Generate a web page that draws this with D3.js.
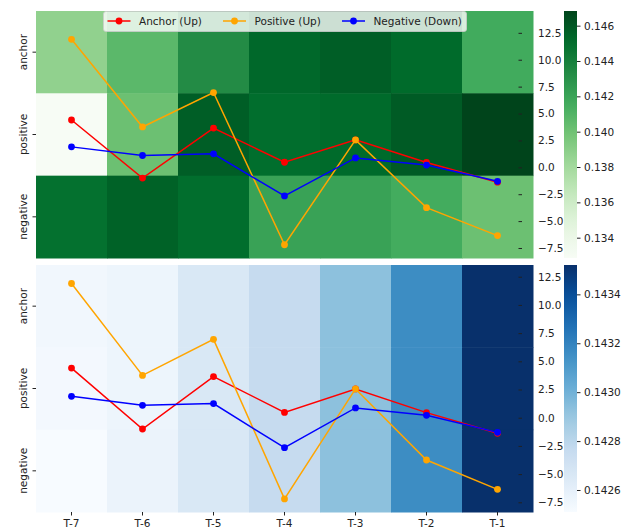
<!DOCTYPE html>
<html>
<head>
<meta charset="utf-8">
<script src="https://cdn.jsdelivr.net/npm/d3@7"></script>
<style>
  body { margin: 0; background: #fff; }
  svg text { font-family: "DejaVu Sans", sans-serif; font-size: 10.5px; fill: #222; }
  .domain { display: none; }
  .tick line { stroke: #222; }
</style>
</head>
<body>
<svg id="chart" width="633" height="532"></svg>
<script>
// ---- data ----
const steps = ["T-7", "T-6", "T-5", "T-4", "T-3", "T-2", "T-1"];
const rows = ["anchor", "positive", "negative"];

// top heatmap (Greens)
const greenAnchor   = [0.13872, 0.14068, 0.14334, 0.14529, 0.14571, 0.14515, 0.14159];
const greenPositive = [0.13285, 0.14012, 0.14571, 0.14501, 0.14515, 0.14585, 0.14683];
const greenNegative = [0.14487, 0.14557, 0.14501, 0.14208, 0.14208, 0.14152, 0.14012];

// bottom heatmap (Blues)
const blueAnchor   = [0.14254, 0.14256, 0.14266, 0.14276, 0.14293, 0.14316, 0.14352];
const bluePositive = [0.14253, 0.14256, 0.14266, 0.14276, 0.14293, 0.14316, 0.14352];
const blueNegative = [0.14251, 0.14257, 0.14266, 0.14276, 0.14293, 0.14316, 0.14352];

// line series (right axis)
const anchorUp    = [4.4, -1.0, 3.65, 0.47, 2.55, 0.45, -1.38];
const positiveUp  = [11.9, 3.75, 6.95, -7.2, 2.55, -3.75, -6.35];
const negativeDown = [1.9, 1.1, 1.25, -2.66, 0.87, 0.21, -1.3];

const lineTicks = [-7.5, -5, -2.5, 0, 2.5, 5, 7.5, 10, 12.5];
const greenTicks = [0.134, 0.136, 0.138, 0.140, 0.142, 0.144, 0.146];
const blueTicks = [0.1426, 0.1428, 0.1430, 0.1432, 0.1434];

const series = [
  { name: "Anchor (Up)", values: anchorUp, color: "#ff0000" },
  { name: "Positive (Up)", values: positiveUp, color: "#ffa500" },
  { name: "Negative (Down)", values: negativeDown, color: "#0000ff" }
];

// matplotlib colormaps (ColorBrewer stops, linear)
const greensCmap = d3.piecewise(d3.interpolateRgb, ["#f7fcf5", "#e5f5e0", "#c7e9c0", "#a1d99b", "#74c476", "#41ab5d", "#238b45", "#006d2c", "#00441b"]);
const bluesCmap = d3.piecewise(d3.interpolateRgb, ["#f7fbff", "#deebf7", "#c6dbef", "#9ecae1", "#6baed6", "#4292c6", "#2171b5", "#08519c", "#08306b"]);

const svg = d3.select("#chart");
const defs = svg.append("defs");

const x = d3.scaleBand().domain(steps).range([36, 533]);

function panel(opts) {
  const g = svg.append("g");
  const y = d3.scaleBand().domain(rows).range([opts.top, opts.bottom]);
  const color = d3.scaleSequential(opts.cmap).domain(opts.cdomain);

  const cells = [];
  rows.forEach(function (r, i) {
    opts.matrix[i].forEach(function (v, j) {
      cells.push({ row: r, col: steps[j], value: v });
    });
  });

  g.append("g").selectAll("rect")
    .data(cells)
    .enter().append("rect")
    .attr("x", function (d) { return x(d.col); })
    .attr("y", function (d) { return y(d.row); })
    .attr("width", x.bandwidth() + 0.5)
    .attr("height", y.bandwidth() + 0.5)
    .attr("fill", function (d) { return color(d.value); });

  // left row labels
  const left = g.append("g")
    .attr("transform", "translate(36,0)")
    .call(d3.axisLeft(y).tickSize(3.5).tickPadding(0).tickFormat(""));
  left.selectAll(".tick").append("text")
    .attr("transform", "translate(-13,0) rotate(-90)")
    .attr("text-anchor", "middle")
    .attr("dy", "0.35em")
    .text(function (d) { return d; });

  // line y scale (twin axis)
  const ly = d3.scaleLinear().domain(opts.ldomain).range([opts.bottom, opts.top]);
  g.append("g")
    .attr("transform", "translate(518.5,0)")
    .call(d3.axisRight(ly).tickValues(lineTicks).tickSize(3.5).tickPadding(16).tickFormat(d3.format(".1f")));

  const line = d3.line()
    .x(function (d, i) { return x(steps[i]) + x.bandwidth() / 2; })
    .y(function (d) { return ly(d); });

  series.forEach(function (s) {
    g.append("path")
      .datum(s.values)
      .attr("d", line)
      .attr("fill", "none")
      .attr("stroke", s.color)
      .attr("stroke-width", 1.5);
    g.append("g").selectAll("circle")
      .data(s.values)
      .enter().append("circle")
      .attr("cx", function (d, i) { return x(steps[i]) + x.bandwidth() / 2; })
      .attr("cy", function (d) { return ly(d); })
      .attr("r", 3.4)
      .attr("fill", s.color);
  });

  // colorbar
  const grad = defs.append("linearGradient")
    .attr("id", opts.id)
    .attr("x1", 0).attr("y1", 1).attr("x2", 0).attr("y2", 0);
  d3.range(0, 1.0001, 0.05).forEach(function (t) {
    grad.append("stop").attr("offset", t).attr("stop-color", opts.cmap(t));
  });
  g.append("rect")
    .attr("x", 564).attr("y", opts.top)
    .attr("width", 13).attr("height", opts.bottom - opts.top)
    .attr("fill", "url(#" + opts.id + ")");
  const cy = d3.scaleLinear().domain(opts.cdomain).range([opts.bottom, opts.top]);
  g.append("g")
    .attr("transform", "translate(577,0)")
    .call(d3.axisRight(cy).tickValues(opts.cticks).tickSize(3.5).tickPadding(3.5).tickFormat(d3.format(opts.cfmt)));

  return g;
}

panel({
  id: "gGreens", top: 11, bottom: 258, cmap: greensCmap,
  cdomain: [0.13285, 0.14683], cticks: greenTicks, cfmt: ".3f",
  matrix: [greenAnchor, greenPositive, greenNegative],
  ldomain: [-8.43, 14.53]
});

panel({
  id: "gBlues", top: 265, bottom: 512, cmap: bluesCmap,
  cdomain: [0.14251, 0.14352], cticks: blueTicks, cfmt: ".4f",
  matrix: [blueAnchor, bluePositive, blueNegative],
  ldomain: [-8.36, 13.54]
});

// bottom x axis
svg.append("g")
  .attr("transform", "translate(0,512)")
  .call(d3.axisBottom(x).tickSize(3.5).tickPadding(4));

// legend (top panel)
const legend = svg.append("g");
legend.append("rect")
  .attr("x", 103.5).attr("y", 11.5)
  .attr("width", 363).attr("height", 20)
  .attr("rx", 2.5)
  .attr("fill", "#fff").attr("fill-opacity", 0.8)
  .attr("stroke", "#ccc").attr("stroke-opacity", 0.8);
const legendX = [107.5, 223, 342];
series.forEach(function (s, i) {
  const lg = legend.append("g").attr("transform", "translate(" + legendX[i] + ",21)");
  lg.append("line").attr("x1", 0).attr("x2", 23).attr("stroke", s.color).attr("stroke-width", 1.5);
  lg.append("circle").attr("cx", 11.5).attr("r", 3.4).attr("fill", s.color);
  lg.append("text").attr("x", 31.5).attr("dy", "0.35em").text(s.name);
});
</script>
</body>
</html>
